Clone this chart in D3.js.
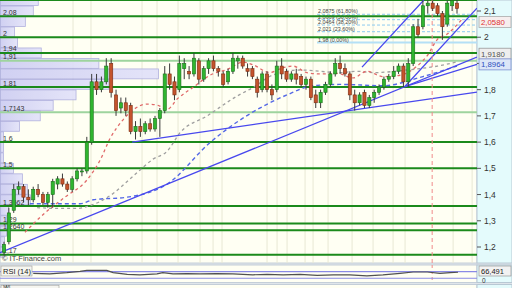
<!DOCTYPE html>
<html><head><meta charset="utf-8">
<script src="https://cdn.jsdelivr.net/npm/d3@7"></script>
<style>html,body{margin:0;padding:0;background:#dfe5eb;} svg{display:block;font-family:"Liberation Sans",Arial,sans-serif;}</style>
</head><body><svg id="c" width="512" height="288"></svg>
<script>
// ---------- DATA ----------
const open  = [1.18,1.22,1.34,1.42,1.43,1.39,1.38,1.42,1.40,1.37, 1.40,1.44,1.46,1.44,1.42,1.46,1.49,1.49,1.60,1.83,
               1.80,1.83,1.90,1.78,1.73,1.75,1.74,1.64,1.66,1.64, 1.67,1.65,1.69,1.72,1.86,1.83,1.80,1.88,1.87,1.86,
               1.91,1.84,1.88,1.91,1.88,1.86,1.83,1.87,1.91,1.92, 1.88,1.88,1.84,1.80,1.86,1.80,1.80,1.89,1.87,1.84,
               1.86,1.85,1.82,1.84,1.78,1.75,1.79,1.82,1.86,1.90, 1.88,1.86,1.78,1.75,1.79,1.74,1.77,1.79,1.81,1.84,
               1.85,1.87,1.89,1.83,1.90,2.04,2.04,2.12,2.13,2.12, 2.09,2.05,2.12,2.13];
const high  = [1.22,1.35,1.44,1.45,1.44,1.42,1.43,1.44,1.41,1.41, 1.46,1.47,1.48,1.45,1.47,1.50,1.50,1.62,1.86,1.86,
               1.85,1.92,1.92,1.80,1.77,1.77,1.75,1.68,1.69,1.68, 1.69,1.70,1.73,1.89,1.90,1.85,1.93,1.92,1.89,1.94,
               1.92,1.89,1.92,1.93,1.89,1.87,1.88,1.94,1.93,1.93, 1.90,1.89,1.85,1.87,1.87,1.82,1.91,1.92,1.88,1.87,
               1.88,1.86,1.85,1.85,1.80,1.80,1.83,1.87,1.92,1.93, 1.90,1.87,1.80,1.79,1.80,1.78,1.80,1.82,1.85,1.86,
               1.89,1.90,1.90,1.92,2.05,2.07,2.14,2.14,2.14,2.13, 2.10,2.14,2.15,2.15];
const low   = [1.17,1.21,1.33,1.40,1.37,1.36,1.37,1.39,1.36,1.35, 1.35,1.42,1.43,1.41,1.41,1.45,1.47,1.48,1.59,1.78,
               1.79,1.82,1.77,1.70,1.71,1.70,1.63,1.61,1.62,1.63, 1.64,1.64,1.62,1.71,1.80,1.76,1.79,1.84,1.84,1.85,
               1.82,1.83,1.86,1.87,1.85,1.81,1.82,1.86,1.88,1.88, 1.85,1.84,1.77,1.79,1.79,1.76,1.79,1.84,1.83,1.83,
               1.82,1.81,1.80,1.76,1.73,1.73,1.78,1.81,1.85,1.86, 1.85,1.76,1.72,1.74,1.73,1.73,1.75,1.78,1.80,1.83,
               1.84,1.86,1.81,1.81,1.89,2.00,2.03,2.09,2.10,2.08, 1.99,2.04,2.10,2.09];
const close = [1.21,1.33,1.42,1.43,1.39,1.38,1.42,1.40,1.37,1.40, 1.45,1.46,1.44,1.42,1.46,1.49,1.49,1.60,1.83,1.80,
               1.83,1.89,1.79,1.72,1.75,1.72,1.64,1.66,1.64,1.67, 1.65,1.69,1.72,1.86,1.82,1.78,1.90,1.90,1.86,1.92,
               1.84,1.88,1.91,1.88,1.87,1.82,1.87,1.92,1.92,1.89, 1.87,1.85,1.79,1.86,1.80,1.78,1.89,1.86,1.84,1.86,
               1.84,1.82,1.84,1.77,1.75,1.79,1.82,1.86,1.90,1.88, 1.86,1.78,1.75,1.78,1.74,1.77,1.79,1.81,1.84,1.85,
               1.87,1.89,1.83,1.90,2.04,2.01,2.12,2.13,2.11,2.09, 2.04,2.13,2.14,2.11];

// moving averages: [candle index, price]
const maRed  = [[4.3,1.256],[8.4,1.33],[12.5,1.39],[17,1.455],[19.7,1.53],[21.8,1.615],[24.2,1.68],[26.3,1.72],[29.4,1.745],[31.6,1.74],[33.5,1.725],[35.6,1.765],[38.9,1.81],[42.3,1.855],[46.2,1.88],[49,1.905],[51.1,1.895],[54.6,1.865],[56.7,1.88],[59.3,1.89],[62.2,1.865],[64.9,1.86],[68.5,1.862],[71.7,1.845],[74.5,1.87],[77.8,1.85],[81.3,1.855],[84.8,1.89],[86.9,1.93],[88.9,1.99],[91,2.012],[94.1,2.07]];
const maGrey = [[6.8,1.35],[11.5,1.347],[15,1.347],[17.2,1.355],[21.8,1.396],[26.5,1.47],[30.6,1.535],[33.5,1.565],[36.1,1.635],[41.7,1.7],[47.8,1.775],[51.3,1.81],[55.2,1.856],[60.8,1.875],[69,1.865],[72.5,1.87],[75.8,1.865],[82.8,1.875],[89,1.89],[93,1.906]];
const maBlue = [[5.3,1.365],[15.6,1.365],[18.3,1.38],[25.3,1.39],[33.5,1.44],[42.4,1.6],[58.1,1.78],[63.4,1.815],[69,1.82],[77.8,1.815],[86,1.85],[93,1.89]];

// trend lines: [[index, price],[index, price]]
const trendLines = [
  [[-0.82,1.178],[97.1,1.924]],
  [[26.3,1.600],[97.1,1.791]],
  [[73.5,1.886],[86.2,2.142]],
  [[82.3,1.812],[97.1,2.111]],
  [[82.3,1.812],[97.1,1.8964]]
];

// horizontal support / resistance levels
const levels      = [2.142, 2.08, 2.0, 1.94, 1.91, 1.81, 1.7143, 1.6, 1.5, 1.3562, 1.29, 1.264, 1.17];
const levelLabels = ["", "2,08", "2", "1,94", "1,91", "1,81", "1,7143", "1,6", "1,5", "1,3562", "1,29", "1,2640", "1,17"];
const levelLight  = [false,false,false,false,true,false,true,false,false,false,false,false,false];

// fibonacci retracement
const fibValues = [2.0875, 2.0669, 2.0464, 2.021, 1.98];
const fibLabels = ["2,0875 (61,80%)", "2,0669 (50,00%)", "2,0464 (38,20%)", "2,021 (23,60%)", "1,98 (0,00%)"];

// volume-at-price profile, bins of 0.04 starting at 2.159 downward
const vapTop = 2.159, vapStep = 0.04;
const vapVolume = [38,33,25,14,17,41,99,159,109,76,53,40,19,3,3,3,13,22,27,30,8,6,6,4,4];

// axis ticks
const yTicks = [2.1, 2.0, 1.9, 1.8, 1.7, 1.6, 1.5, 1.4, 1.3, 1.2];

// vertical date grid (candle index positions)
const gridDates = [14.17,17.86,28.34,31.42,35.73,40.25,42.92,44.76,54.0,56.06,58.11,61.81,63.45,66.53,71.46,75.77,79.88,82.34,92.2,96.1];
const cursorIndex = 87.9, cursorPrice = 2.058;

// RSI(14): [index, value]
const rsi = [[6,60],[9.4,56],[12.9,64],[15.6,72],[17,78],[21.1,78],[22.4,64],[25.3,54],[27.9,51],[31.4,56],[32.6,64],[34.7,56],[37.6,58],[40.2,56],[43.7,58],[47,56],[51.1,51],[54,54],[57.3,51],[60.8,54],[64.3,48],[67.6,51],[71,50],[74.5,45],[77.8,50],[81.3,60],[84,68],[86.9,68],[89.5,60],[91.6,64],[93.2,66.5]];
const rsiLast = "66,491";

// ---------- DRAW ----------
const fmt = v => String(v).replace('.', ',');
const svg = d3.select('#c');
const PR = 477, MAIN_H = 263;
const x = d3.scaleLinear().domain([0, 93]).range([4, 457]);
const y = d3.scaleLinear().domain([1.2, 2.1]).range([247, 11]);

const defs = svg.append('defs');
defs.append('clipPath').attr('id','clipMain').append('rect').attr('x',0).attr('y',0).attr('width',PR).attr('height',MAIN_H);
const g = defs.append('linearGradient').attr('id','lav').attr('x1','0').attr('x2','1').attr('y1','0').attr('y2','0');
g.append('stop').attr('offset','0').attr('stop-color','#ccccf2');
g.append('stop').attr('offset','1').attr('stop-color','#e2e2fa');

// panels
svg.append('rect').attr('x',0).attr('y',0).attr('width',PR).attr('height',MAIN_H).attr('fill','#fffff3').attr('stroke','#c4ced8');
svg.append('rect').attr('x',PR).attr('y',0).attr('width',512-PR).attr('height',MAIN_H).attr('fill','#e4fbfc').attr('stroke','#b8c8d4');

const main = svg.append('g').attr('clip-path','url(#clipMain)');

// vertical grid
main.selectAll('.vg').data(gridDates).join('line')
  .attr('x1',d=>x(d)).attr('x2',d=>x(d)).attr('y1',0).attr('y2',MAIN_H)
  .attr('stroke','#e8e8d4').attr('stroke-width',1);

// volume profile
const vx = d3.scaleLinear().domain([0,160]).range([0,159]);
main.selectAll('.vap').data(vapVolume).join('rect')
  .attr('x',0.5)
  .attr('y',(d,i)=>y(vapTop - vapStep*i))
  .attr('width',d=>vx(d))
  .attr('height',(d,i)=>y(vapTop - vapStep*(i+1)) - y(vapTop - vapStep*i) - 0.6)
  .attr('fill','url(#lav)').attr('stroke','#a9a9dc').attr('stroke-width',0.8).attr('opacity',0.9);

// fib lines
main.selectAll('.fib').data(fibValues).join('line')
  .attr('x1',317).attr('x2',PR).attr('y1',d=>y(d)).attr('y2',d=>y(d))
  .attr('stroke',(d,i)=>i===fibValues.length-1?'#b4e0f6':'#8ccbf0')
  .attr('stroke-width',(d,i)=>i===fibValues.length-1?2:1)
  .attr('stroke-dasharray',(d,i)=>i===fibValues.length-1?null:'3,2');
main.selectAll('.fibt').data(fibValues).join('text')
  .attr('x',318).attr('y',d=>y(d)-0.8).text((d,i)=>fibLabels[i])
  .attr('font-size',5.4).attr('fill','#444');

// horizontal levels
main.selectAll('.lv').data(levels).join('line')
  .attr('x1',0).attr('x2',PR).attr('y1',d=>y(d)).attr('y2',d=>y(d))
  .attr('stroke',(d,i)=>levelLight[i]?'#9ed49e':'#1b8a1b').attr('stroke-width',2);
main.selectAll('.lvt').data(levels).join('text')
  .attr('x',3).attr('y',d=>y(d)-1.5).text((d,i)=>levelLabels[i])
  .attr('font-size',7).attr('fill','#333');

// moving averages
const line = d3.line().x(d=>x(d[0])).y(d=>y(d[1])).curve(d3.curveMonotoneX);
main.append('path').attr('d',line(maBlue)).attr('fill','none').attr('stroke','#5468e6').attr('stroke-width',1.4).attr('stroke-dasharray','4,3');
main.append('path').attr('d',line(maGrey)).attr('fill','none').attr('stroke','#a0a0a0').attr('stroke-width',1.3).attr('stroke-dasharray','3,3');
main.append('path').attr('d',line(maRed)).attr('fill','none').attr('stroke','#e06a6a').attr('stroke-width',1.3).attr('stroke-dasharray','3,3');

// trend lines
main.selectAll('.tl').data(trendLines).join('line')
  .attr('x1',d=>x(d[0][0])).attr('y1',d=>y(d[0][1])).attr('x2',d=>x(d[1][0])).attr('y2',d=>y(d[1][1]))
  .attr('stroke','#4848ee').attr('stroke-width',1.3);

// cursor vertical line
main.append('line').attr('x1',x(cursorIndex)).attr('x2',x(cursorIndex)).attr('y1',0).attr('y2',MAIN_H)
  .attr('stroke','#f08a8a').attr('stroke-width',1).attr('stroke-dasharray','4,3');

// candles
const idx = d3.range(open.length);
const cg = main.append('g');
cg.selectAll('.wick').data(idx).join('line')
  .attr('x1',i=>x(i)).attr('x2',i=>x(i)).attr('y1',i=>y(high[i])).attr('y2',i=>y(low[i]))
  .attr('stroke','#3a3a3a').attr('stroke-width',1);
cg.selectAll('.body').data(idx).join('rect')
  .attr('x',i=>x(i)-1.6).attr('width',3.2)
  .attr('y',i=>y(Math.max(open[i],close[i])))
  .attr('height',i=>Math.max(1,Math.abs(y(open[i])-y(close[i]))))
  .attr('fill',i=>close[i]>=open[i]?'#2fb52f':'#c4532c')
  .attr('stroke',i=>close[i]>=open[i]?'#1c701c':'#7a2c12').attr('stroke-width',0.6);

// copyright
svg.append('text').attr('x',2).attr('y',261).text('© IT-Finance.com').attr('font-size',7.5).attr('fill','#444');

// right axis
const ax = svg.append('g');
ax.selectAll('.tk').data(yTicks).join('line')
  .attr('x1',PR).attr('x2',PR+4).attr('y1',d=>y(d)).attr('y2',d=>y(d)).attr('stroke','#555');
ax.selectAll('.tt').data(yTicks.filter(d=>d!==1.9)).join('text')
  .attr('x',PR+7).attr('y',d=>y(d)+3).text(d=>fmt(+d.toFixed(1)))
  .attr('font-size',8.5).attr('fill','#333');

function tag(yy, txt, fill, stroke, color, h){
  svg.append('rect').attr('x',PR+2).attr('y',yy-5.5).attr('width',32).attr('height',h||11)
    .attr('fill',fill).attr('stroke',stroke).attr('stroke-width',0.8);
  svg.append('text').attr('x',PR+4).attr('y',yy+3).text(txt).attr('font-size',7.8).attr('fill',color);
}
tag(y(1.918)-5, '1,9180', '#eeeeee', '#999', '#555');
tag(y(1.8964), '1,8964', '#dce6f8', '#7c8fd0', '#3050c0');
tag(y(cursorPrice), '2,0580', '#f6eeee', '#aaa', '#e03030');

// RSI panel
const RT = 265, RB = 282.5;
const ry = d3.scaleLinear().domain([0,100]).range([283.2,266.7]);
svg.append('rect').attr('x',0).attr('y',RT).attr('width',PR).attr('height',RB-RT).attr('fill','#fffff3').attr('stroke','#c4ced8');
svg.append('rect').attr('x',PR).attr('y',RT).attr('width',512-PR).attr('height',RB-RT).attr('fill','#e4fbfc').attr('stroke','#b8c8d4');
svg.append('line').attr('x1',x(cursorIndex)).attr('x2',x(cursorIndex)).attr('y1',RT).attr('y2',RB).attr('stroke','#f08a8a').attr('stroke-dasharray','3,3');
[70,30].forEach(v=>svg.append('line').attr('x1',0).attr('x2',PR).attr('y1',ry(v)).attr('y2',ry(v)).attr('stroke','#8a8ae6').attr('stroke-width',1.2));
svg.append('path').attr('d',d3.line().x(d=>x(d[0])).y(d=>ry(d[1]))(rsi)).attr('fill','none').attr('stroke','#505050').attr('stroke-width',1.2);
svg.append('rect').attr('x',1).attr('y',RT+1).attr('width',31).attr('height',10).attr('fill','#f6f6f0').attr('stroke','#999').attr('stroke-width',0.6);
svg.append('text').attr('x',3).attr('y',RT+8.5).text('RSI (14)').attr('font-size',7.5).attr('fill','#222');
svg.append('rect').attr('x',PR+2).attr('y',RT+1).attr('width',32).attr('height',10).attr('fill','#f2f2f2').attr('stroke','#888').attr('stroke-width',0.6);
svg.append('text').attr('x',PR+4).attr('y',RT+8.5).text(rsiLast).attr('font-size',7.5).attr('fill','#222');
svg.append('text').attr('x',PR+5).attr('y',RB).text('0').attr('font-size',6.5).attr('fill','#333');

// bottom panel (cut off)
svg.append('rect').attr('x',0).attr('y',284.5).attr('width',PR).attr('height',10).attr('fill','#fffff3').attr('stroke','#c4ced8');
svg.append('rect').attr('x',PR).attr('y',284.5).attr('width',512-PR).attr('height',10).attr('fill','#e4fbfc').attr('stroke','#b8c8d4');
svg.append('rect').attr('x',1).attr('y',285.2).attr('width',58).attr('height',10).attr('fill','#f6f6f0').attr('stroke','#999').attr('stroke-width',0.6);
svg.append('text').attr('x',3).attr('y',287.8).text('SAR').attr('font-size',3.5).attr('fill','#222');
</script></body></html>
